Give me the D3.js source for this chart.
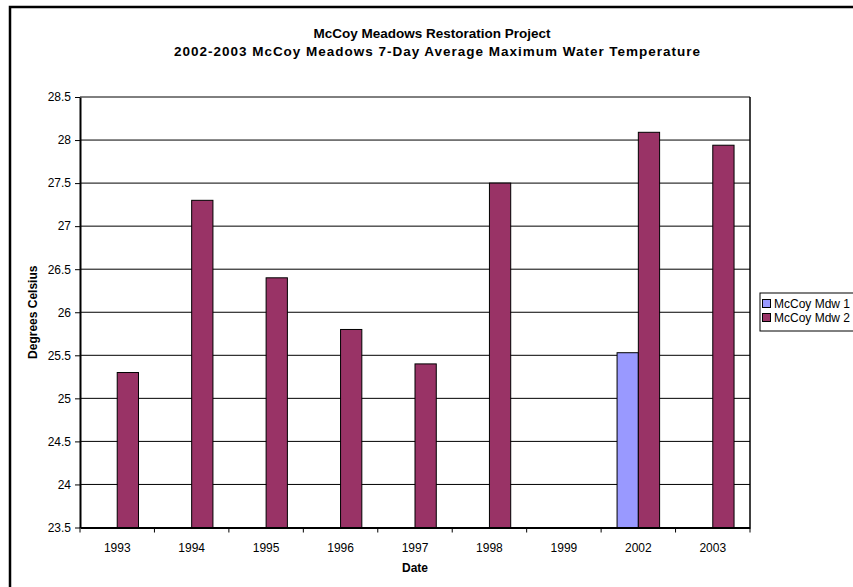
<!DOCTYPE html>
<html>
<head>
<meta charset="utf-8">
<script src="https://cdn.jsdelivr.net/npm/d3@7"></script>
<style>
  body { margin: 0; background: #fff; }
  svg { display: block; }
</style>
</head>
<body>
<svg id="chart" width="853" height="587"></svg>
<script>
const fontFamily = "Arial, 'Liberation Sans', Helvetica, sans-serif";
const width = 853, height = 587;

// Chart data
const years = ["1993", "1994", "1995", "1996", "1997", "1998", "1999", "2002", "2003"];
const seriesNames = ["McCoy Mdw 1", "McCoy Mdw 2"];
const mdw1 = [null, null, null, null, null, null, null, 25.53, null];
const mdw2 = [25.3, 27.3, 26.4, 25.8, 25.4, 27.5, null, 28.09, 27.94];
const yTicks = [23.5, 24, 24.5, 25, 25.5, 26, 26.5, 27, 27.5, 28, 28.5];
const colors = ["#9999ff", "#993366"];

const svg = d3.select("#chart");

// Outer chart border
svg.append("rect")
  .attr("x", 10)
  .attr("y", 7)
  .attr("width", 860)
  .attr("height", 600)
  .attr("fill", "#fff")
  .attr("stroke", "#000")
  .attr("stroke-width", 2.5);

// Plot area
const plot = { left: 80, right: 750, top: 97, bottom: 527.5 };

const x = d3.scaleBand()
  .domain(years)
  .range([plot.left, plot.right])
  .paddingInner(0)
  .paddingOuter(0);

const y = d3.scaleLinear()
  .domain([23.5, 28.5])
  .range([plot.bottom, plot.top]);

const barW = x.bandwidth() / 3.5;
const groupOffset = (x.bandwidth() - 2 * barW) / 2;

// Gridlines
svg.append("g")
  .selectAll("line")
  .data(yTicks)
  .enter()
  .append("line")
  .attr("x1", plot.left)
  .attr("x2", plot.right)
  .attr("y1", d => y(d))
  .attr("y2", d => y(d))
  .attr("stroke", "#000")
  .attr("stroke-width", 1);

// Bars
const series = [mdw1, mdw2];
series.forEach((vals, si) => {
  svg.append("g")
    .selectAll("rect")
    .data(years.map((yr, i) => ({ yr, v: vals[i] })).filter(d => d.v != null))
    .enter()
    .append("rect")
    .attr("x", d => x(d.yr) + groupOffset + si * barW)
    .attr("y", d => y(d.v))
    .attr("width", barW)
    .attr("height", d => y(23.5) - y(d.v))
    .attr("fill", colors[si])
    .attr("stroke", "#000")
    .attr("stroke-width", 1);
});

// Plot area frame (right side)
svg.append("line")
  .attr("x1", plot.right).attr("x2", plot.right)
  .attr("y1", plot.top).attr("y2", plot.bottom)
  .attr("stroke", "#000").attr("stroke-width", 1.5);

// Y axis
const yAxis = svg.append("g")
  .attr("transform", `translate(${plot.left},0)`)
  .call(d3.axisLeft(y).tickValues(yTicks).tickSize(5).tickSizeOuter(0).tickFormat(d3.format("")));
yAxis.select(".domain").attr("stroke-width", 2);
yAxis.selectAll("text")
  .attr("font-family", fontFamily)
  .attr("font-size", "12px")
  .attr("fill", "#000")
  .attr("dx", "-1");

// X axis
const xAxis = svg.append("g")
  .attr("transform", `translate(0,${plot.bottom})`)
  .call(d3.axisBottom(x).tickSize(0).tickSizeOuter(0));
xAxis.select(".domain").attr("stroke-width", 2);
xAxis.selectAll("text")
  .attr("font-family", fontFamily)
  .attr("font-size", "12px")
  .attr("fill", "#000")
  .attr("y", 16);

// X tick marks between categories
svg.append("g")
  .selectAll("line")
  .data(years.map(d => x(d)).concat([plot.right]))
  .enter()
  .append("line")
  .attr("x1", d => d).attr("x2", d => d)
  .attr("y1", plot.bottom).attr("y2", plot.bottom + 5)
  .attr("stroke", "#000");

// Titles
svg.append("text")
  .attr("x", 432).attr("y", 38)
  .attr("text-anchor", "middle")
  .attr("font-family", fontFamily)
  .attr("font-size", "13.5px")
  .attr("font-weight", "700")
  .text("McCoy Meadows Restoration Project");

svg.append("text")
  .attr("x", 437).attr("y", 56)
  .attr("text-anchor", "middle")
  .attr("font-family", fontFamily)
  .attr("font-size", "13.5px")
  .attr("font-weight", "700")
  .attr("textLength", 526)
  .attr("lengthAdjust", "spacing")
  .text("2002-2003 McCoy Meadows 7-Day Average Maximum Water Temperature");

// Axis titles
svg.append("text")
  .attr("transform", `translate(37,${(plot.top + plot.bottom) / 2}) rotate(-90)`)
  .attr("text-anchor", "middle")
  .attr("font-family", fontFamily)
  .attr("font-size", "12px")
  .attr("font-weight", "700")
  .text("Degrees Celsius");

svg.append("text")
  .attr("x", (plot.left + plot.right) / 2)
  .attr("y", 572)
  .attr("text-anchor", "middle")
  .attr("font-family", fontFamily)
  .attr("font-size", "12px")
  .attr("font-weight", "700")
  .text("Date");

// Legend
const legend = svg.append("g").attr("transform", "translate(760,293)");
legend.append("rect")
  .attr("x", 0).attr("y", 0)
  .attr("width", 120).attr("height", 38)
  .attr("fill", "#fff")
  .attr("stroke", "#000")
  .attr("stroke-width", 1);

seriesNames.forEach((name, i) => {
  legend.append("rect")
    .attr("x", 2.5).attr("y", 6.5 + i * 14)
    .attr("width", 8).attr("height", 8)
    .attr("fill", colors[i])
    .attr("stroke", "#000");
  legend.append("text")
    .attr("x", 14).attr("y", 15 + i * 14)
    .attr("font-family", fontFamily)
    .attr("font-size", "12px")
    .text(name);
});
</script>
</body>
</html>
